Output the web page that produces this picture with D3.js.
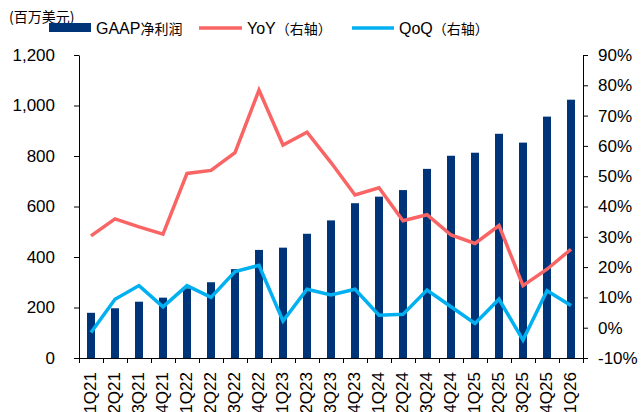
<!DOCTYPE html>
<html>
<head>
<meta charset="utf-8">
<script src="https://cdn.jsdelivr.net/npm/d3@7"></script>
<style>
  body { margin: 0; background: #fff; }
  text { font-family: "Liberation Sans", Arial, sans-serif; fill: #000; }
  .cjk { font-family: "Noto Sans CJK SC", sans-serif; }
</style>
</head>
<body>
<div id="chart"></div>
<script>
// GAAP net income (USD mn) with YoY / QoQ growth on the right axis

const quarters = ["1Q21","2Q21","3Q21","4Q21","1Q22","2Q22","3Q22","4Q22",
    "1Q23","2Q23","3Q23","4Q23","1Q24","2Q24","3Q24","4Q24",
    "1Q25","2Q25","3Q25","4Q25","1Q26"];
const netIncome = [179, 197, 223, 239, 276, 300, 352, 428, 437, 492, 545,
    613, 639, 665, 749, 801, 813, 888, 853, 956, 1023];
const yoy = [30.3, 35.9, 33.3, 30.9, 50.9, 51.9, 57.8, 78.4, 60.3, 64.5, 54.5,
    43.8, 46.2, 35.3, 37.3, 30.6, 27.8, 33.7, 13.9, 19.3, 25.9];
const qoq = [-1.6, 9.4, 13.9, 6.9, 13.9, 10.0, 18.5, 20.6, 2.2, 12.7, 10.8,
    12.7, 4.1, 4.4, 12.4, 6.9, 1.4, 9.4, -4.1, 12.2, 7.3];
const leftTicks = [0, 200, 400, 600, 800, 1000, 1200];
const rightTicks = [-10, 0, 10, 20, 30, 40, 50, 60, 70, 80, 90];

const W = 641, H = 412;
const plotL = 79, plotR = 583, plotT = 55, plotB = 358;

const colorBar = "#003478";
const colorYoY = "#F96464";
const colorQoQ = "#00B0F0";

const svg = d3.select("#chart").append("svg")
    .attr("width", W).attr("height", H);

// Scales
const x = d3.scaleBand().domain(quarters).range([plotL, plotR])
    .paddingInner(0.667).paddingOuter(0.3335);
const y = d3.scaleLinear().domain([0, 1200]).range([plotB, plotT]);
const y2 = d3.scaleLinear().domain([-10, 90]).range([plotB, plotT]);
const cx = d => x(d) + x.bandwidth() / 2;

// Bars
svg.append("g")
    .selectAll("rect")
    .data(netIncome)
    .join("rect")
    .attr("x", (d, i) => x(quarters[i]))
    .attr("y", d => y(d))
    .attr("width", x.bandwidth())
    .attr("height", d => y(0) - y(d))
    .attr("fill", colorBar);

// Lines
const line = d3.line()
    .x((d, i) => cx(quarters[i]))
    .y(d => y2(d));

svg.append("path")
    .datum(yoy)
    .attr("d", line)
    .attr("fill", "none")
    .attr("stroke", colorYoY)
    .attr("stroke-width", 3.5);

svg.append("path")
    .datum(qoq)
    .attr("d", line)
    .attr("fill", "none")
    .attr("stroke", colorQoQ)
    .attr("stroke-width", 3.5);

// Left axis
const gL = svg.append("g")
    .attr("transform", `translate(${plotL},0)`)
    .call(d3.axisLeft(y).tickValues(leftTicks).tickFormat(d3.format(","))
        .tickSize(5).tickPadding(19).tickSizeOuter(0));

// Right axis
const gR = svg.append("g")
    .attr("transform", `translate(${plotR},0)`)
    .call(d3.axisRight(y2).tickValues(rightTicks).tickFormat(d => d + "%")
        .tickSize(5).tickPadding(10).tickSizeOuter(0));

// Bottom axis: ticks on band boundaries
const xb = d3.scaleLinear().domain([0, quarters.length]).range([plotL, plotR]);
const gB = svg.append("g")
    .attr("transform", `translate(0,${plotB})`)
    .call(d3.axisBottom(xb).tickValues(d3.range(quarters.length + 1))
        .tickFormat("").tickSize(5).tickSizeOuter(0));

[gL, gR, gB].forEach(g => {
    g.select(".domain").attr("stroke", "#000").attr("stroke-width", 1);
    g.selectAll(".tick line").attr("stroke", "#000");
    g.selectAll("text")
        .style("font-family", "Liberation Sans, Arial, sans-serif")
        .style("font-size", "17px")
        .attr("fill", "#000");
});

// Category labels, rotated
svg.append("g")
    .selectAll("text")
    .data(quarters)
    .join("text")
    .attr("transform", d => `translate(${cx(d) + 5},372) rotate(-90)`)
    .attr("text-anchor", "end")
    .style("font-size", "17px")
    .text(d => d);

// Unit label
svg.append("text")
    .attr("x", 9).attr("y", 22)
    .attr("class", "cjk")
    .style("font-size", "14px")
    .text("(百万美元)");

// Legend
const legend = svg.append("g").attr("class", "legend");

legend.append("rect")
    .attr("x", 49).attr("y", 23)
    .attr("width", 42).attr("height", 9)
    .attr("fill", colorBar);

const legendText = [
    { x: 96, latin: "GAAP", cjk: "净利润" },
    { x: 247, latin: "YoY", cjk: "（右轴）" },
    { x: 399, latin: "QoQ", cjk: "（右轴）" }
];

legend.append("line")
    .attr("x1", 199).attr("x2", 242).attr("y1", 28).attr("y2", 28)
    .attr("stroke", colorYoY).attr("stroke-width", 3.5);
legend.append("line")
    .attr("x1", 352).attr("x2", 394).attr("y1", 28).attr("y2", 28)
    .attr("stroke", colorQoQ).attr("stroke-width", 3.5);

legendText.forEach(t => {
    const txt = legend.append("text")
        .attr("x", t.x).attr("y", 34)
        .style("font-size", "16px");
    txt.append("tspan").text(t.latin);
    txt.append("tspan").attr("class", "cjk")
        .style("font-size", "14px").text(t.cjk);
});
</script>
</body>
</html>
